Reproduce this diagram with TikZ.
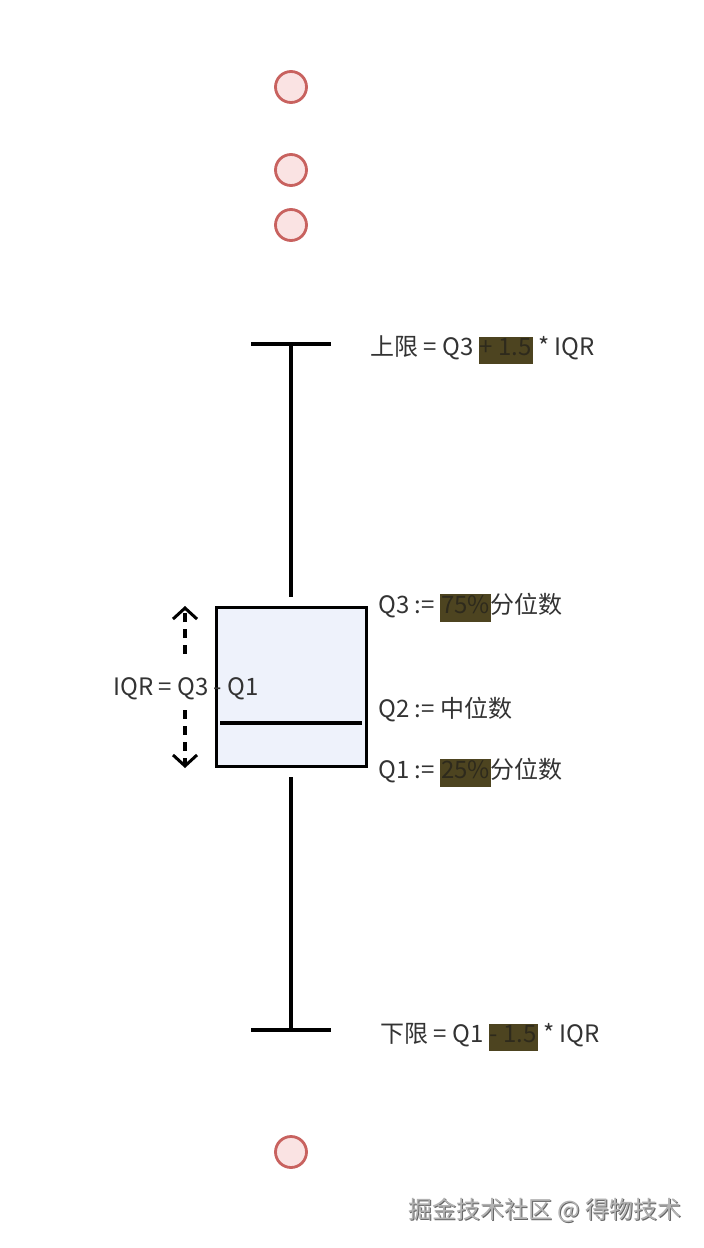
\documentclass[tikz,border=0pt]{standalone}
\usepackage{fontspec}
\setmainfont{Noto Sans CJK SC}
\usepackage{tikz}
\usetikzlibrary{arrows.meta}
\definecolor{outfill}{HTML}{FAE3E3}
\definecolor{outdraw}{HTML}{C8625F}
\definecolor{boxfill}{HTML}{EEF2FB}
\definecolor{hlolive}{HTML}{4D4420}
\definecolor{hltext}{HTML}{2E2A1C}
\definecolor{txt}{HTML}{333333}
\newcommand\hlpart[1]{{\setlength\fboxsep{1pt}\colorbox{hlolive}{\color{hltext}\rule[-8pt]{0pt}{25pt}#1}}}

\begin{document}
\begin{tikzpicture}[x=1pt, y=-1pt,
  outlier/.style={circle, draw=outdraw, fill=outfill, line width=2.8pt, minimum size=31pt, inner sep=0pt},
  label/.style={anchor=base west, text=txt, font=\fontsize{24}{28}\selectfont, inner sep=0pt},
  whisker/.style={line width=3.4pt},
  iqrarrow/.style={line width=3.4pt, dash pattern=on 9pt off 7pt, -{Straight Barb[length=11pt, width=24pt, line width=3pt]}}]
  \useasboundingbox [fill=white] (0,0) rectangle (704,1248);
  \node [outlier] (o1) at (291, 87) {};
  \node [outlier] (o2) at (291, 170) {};
  \node [outlier] (o3) at (291, 225) {};
  \node [outlier] (o4) at (291, 1152) {};
  \node [draw, line width=3.4pt, fill=boxfill, minimum width=150pt, minimum height=159pt, inner sep=0pt] (box) at (291.5, 687) {};
  \coordinate (hi) at (291, 344);
  \coordinate (hiend) at (291, 597);
  \coordinate (lo) at (291, 1030);
  \coordinate (loend) at (291, 777);
  \coordinate (hil) at (251, 344);
  \coordinate (hir) at (331, 344);
  \coordinate (lol) at (251, 1030);
  \coordinate (lor) at (331, 1030);
  \coordinate (medl) at (220, 723);
  \coordinate (medr) at (362, 723);
  \draw [whisker] (hi) -- (hiend);
  \draw [whisker] (lo) -- (loend);
  \draw [whisker] (hil) -- (hir);
  \draw [whisker] (lol) -- (lor);
  \draw [whisker] (medl) -- (medr);
  \coordinate (a1) at (185, 606);
  \coordinate (a2) at (185, 654);
  \coordinate (a3) at (185, 710);
  \coordinate (a4) at (185, 768);
  \draw [iqrarrow] (a2) -- (a1);
  \draw [iqrarrow] (a3) -- (a4);
  \node [label] (iqr) at (113, 695) {IQR = Q3 - Q1};
  \node [label] (upper) at (370, 355) {上限 = Q3 \hlpart{+ 1.5} * IQR};
  \node [label] (q3) at (378, 613) {Q3 := \hlpart{75\%}分位数};
  \node [label] (q2) at (378, 717) {Q2 := 中位数};
  \node [label] (q1) at (378, 778) {Q1 := \hlpart{25\%}分位数};
  \node [label] (lower) at (380, 1042) {下限 = Q1 \hlpart{- 1.5} * IQR};
  \node [label, text=black!60] (markshadow) at (409.2, 1219.2) {掘金技术社区 @ 得物技术};
  \node [label, text=black!30] (mark) at (408, 1218) {掘金技术社区 @ 得物技术};
\end{tikzpicture}
\end{document}
